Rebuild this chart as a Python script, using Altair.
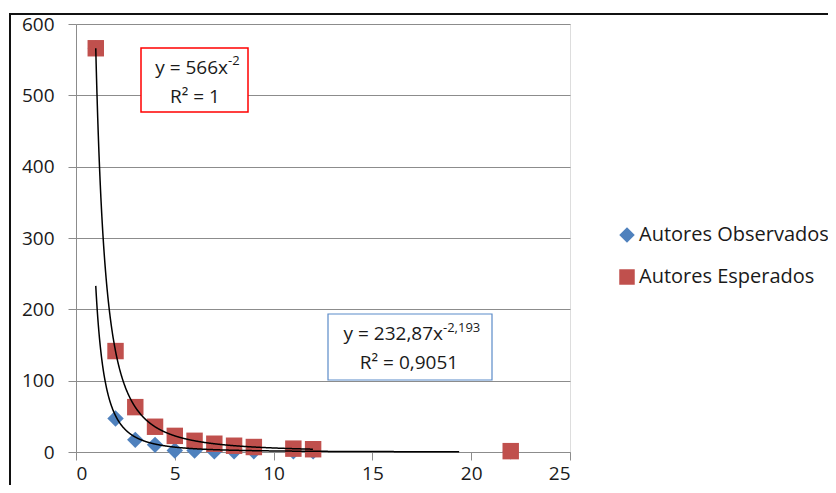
import altair as alt
import pandas as pd

# ---- data ----
x_obs = [1, 2, 3, 4, 5, 6, 7, 8, 9, 11, 12, 22]
y_obs = [566, 47, 17, 10, 2, 2, 1, 1, 1, 1, 1, 1]
x_esp = [1, 2, 3, 4, 5, 6, 7, 8, 9, 11, 12, 22]
y_esp = [566, 141.5, 62.9, 35.4, 22.6, 15.7, 11.6, 8.8, 7.0, 4.7, 3.9, 1.2]
series_names = ["Autores Observados", "Autores Esperados"]
series_colors = ["#4F81BD", "#C0504D"]
series_shapes = ["diamond", "square"]

# trendline equations shown on the chart
fit_esp = {"a": 566, "b": -2, "x_end": 12}
fit_obs = {"a": 232.87, "b": -2.193, "x_end": 19.4}
x_ticks = [0, 5, 10, 15, 20, 25]
y_ticks = [0, 100, 200, 300, 400, 500, 600]

FONT = "Open Sans"
TXT = "#1a1a1a"

df = pd.DataFrame(
    {
        "x": x_obs + x_esp,
        "y": y_obs + y_esp,
        "serie": [series_names[0]] * len(x_obs) + [series_names[1]] * len(x_esp),
    }
)

W, H = 494, 428

xs = alt.Scale(domain=[0, 25], nice=False)
ys = alt.Scale(domain=[0, 600], nice=False)

leg = alt.Legend(
    title=None,
    orient="none",
    legendX=541,
    legendY=201,
    symbolSize=240,
    symbolStrokeWidth=0,
    labelFontSize=20,
    labelFont=FONT,
    labelColor=TXT,
    labelOffset=2,
    rowPadding=22,
    padding=0,
    labelLimit=400,
)

points = (
    alt.Chart(df)
    .mark_point(filled=True, opacity=1, size=270, strokeWidth=0)
    .encode(
        x=alt.X(
            "x:Q",
            scale=xs,
            axis=alt.Axis(
                values=x_ticks,
                grid=False,
                title=None,
                tickSize=8,
                labelPadding=4,
                domainColor="#8c8c8c",
                tickColor="#8c8c8c",
                labelFontSize=19,
                labelFont=FONT,
                labelColor=TXT,
            ),
        ),
        y=alt.Y(
            "y:Q",
            scale=ys,
            axis=alt.Axis(
                values=y_ticks,
                grid=True,
                gridColor="#8c8c8c",
                title=None,
                tickSize=8,
                labelPadding=14,
                domainColor="#8c8c8c",
                tickColor="#8c8c8c",
                labelFontSize=19,
                labelFont=FONT,
                labelColor=TXT,
            ),
        ),
        color=alt.Color(
            "serie:N",
            scale=alt.Scale(domain=series_names, range=series_colors),
            legend=leg,
            sort=series_names,
        ),
        shape=alt.Shape(
            "serie:N",
            scale=alt.Scale(domain=series_names, range=series_shapes),
            legend=leg,
            sort=series_names,
        ),
        order=alt.Order("ord:Q"),
    )
    .transform_calculate(ord=f"datum.serie == '{series_names[0]}' ? 0 : 1")
)


def curve(fit):
    return (
        alt.Chart(alt.sequence(1, fit["x_end"], 0.01, as_="x"))
        .transform_calculate(y=f"{fit['a']} * pow(datum.x, {fit['b']})")
        .mark_line(color="black", strokeWidth=1.5)
        .encode(x=alt.X("x:Q", scale=xs), y=alt.Y("y:Q", scale=ys))
    )


one = pd.DataFrame({"a": [0]})


def box(x1, y1, x2, y2, color, sw):
    return (
        alt.Chart(one)
        .mark_rect(fill="white", stroke=color, strokeWidth=sw)
        .encode(x=alt.value(x1), y=alt.value(y1), x2=alt.value(x2), y2=alt.value(y2))
    )


def label(txt, x, y, align, size=19):
    return (
        alt.Chart(one)
        .mark_text(text=txt, align=align, baseline="middle", font=FONT, fontSize=size, color=TXT)
        .encode(x=alt.value(x), y=alt.value(y))
    )


border = (
    alt.Chart(one)
    .mark_rect(fill=None, stroke="#111111", strokeWidth=2)
    .encode(x=alt.value(-66), y=alt.value(-10), x2=alt.value(900), y2=alt.value(600))
)

annots = [
    box(65, 24, 172, 88, "#FF0000", 1.5),
    label("y = 566x", 152, 44, "right"),
    label("-2", 152, 37, "left", 13),
    label("R² = 1", 119, 73, "center"),
    box(252, 290, 416, 356, "#5B8BC9", 1.2),
    label("y = 232,87x", 367, 310, "right"),
    label("-2,193", 367, 304, "left", 13),
    label("R² = 0,9051", 333, 339, "center"),
]

chart = (
    alt.layer(points, curve(fit_esp), curve(fit_obs), *annots, border)
    .properties(
        width=W,
        height=H,
        autosize=alt.AutoSizeParams(type="none"),
        padding={"left": 68, "top": 16, "right": 258, "bottom": 33},
    )
    .configure_view(stroke=None)
    .configure(background="white")
)

chart.save("out.html", embed_options={"renderer": "svg", "actions": False})
